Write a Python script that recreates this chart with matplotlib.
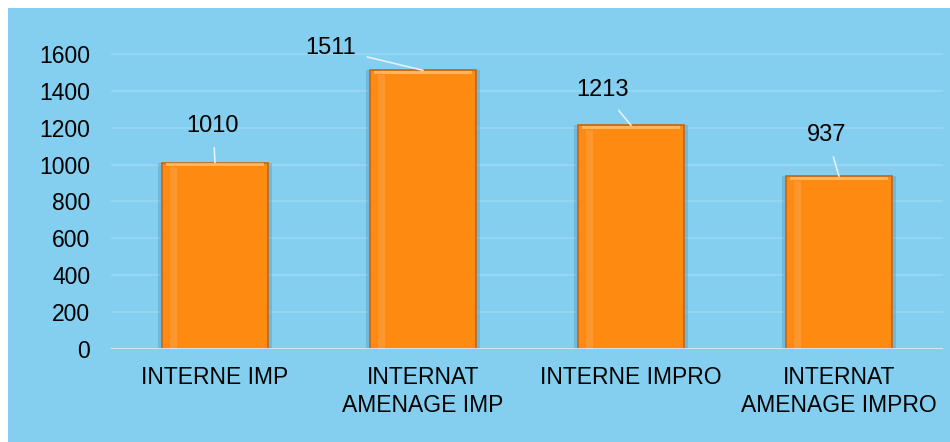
import matplotlib.pyplot as plt
from matplotlib.patches import Rectangle

plt.rcParams['font.family'] = ['Liberation Sans', 'DejaVu Sans']

categories = ['INTERNE IMP', 'INTERNAT\nAMENAGE IMP', 'INTERNE IMPRO', 'INTERNAT\nAMENAGE IMPRO']
values = [1010, 1511, 1213, 937]
# label offsets in pixels (dx, dy) from bar top
label_offsets = [(-2, 37), (-92, 22), (-29, 35), (-12, 41)]

BG = '#84CFEF'
fig = plt.figure(figsize=(9.5, 4.42), dpi=100)
fig.patch.set_facecolor('white')
bg = Rectangle((8 / 950, 0), 1, 434 / 442, transform=fig.transFigure,
               facecolor=BG, edgecolor='none', zorder=-10)
fig.add_artist(bg)

ax = fig.add_axes([111 / 950, 93 / 442, 832 / 950, 332 / 442])
ax.set_facecolor('none')
x = range(len(values))

# soft shadow behind bars
ax.bar(x, values, width=0.55, color='#4f86a8', alpha=0.3, zorder=2)
ax.bar(x, values, width=0.51, color='#FF8A12', edgecolor='#C0661A', linewidth=1.2, zorder=3)
# light highlight at the top of each bar
for i, v in enumerate(values):
    ax.bar(i, 18, bottom=v - 20, width=0.47, color='#FFC070', alpha=0.8, zorder=4, linewidth=0)
    ax.bar(i - 0.2, v - 25, width=0.03, color='#FFA040', alpha=0.6, zorder=4, linewidth=0)

ax.set_xlim(-0.5, 3.5)
ax.set_ylim(0, 1800)
ax.set_yticks(range(0, 1601, 200))
ax.yaxis.grid(True, color='#9AD8F3', linewidth=1.2, zorder=1)
ax.set_axisbelow(True)
ax.axhline(0, color='#D6EEF9', linewidth=2, zorder=5)
for s in ax.spines.values():
    s.set_visible(False)
ax.tick_params(length=0, labelsize=16.5, colors='black')
ax.tick_params(axis='y', pad=15)
ax.tick_params(axis='x', pad=12)
ax.set_xticks(list(x))
ax.set_xticklabels(categories, fontsize=16.5, linespacing=1.3)

for i, v in enumerate(values):
    dx, dy = label_offsets[i]
    ax.annotate(str(v), xy=(i, v), xytext=(dx * 0.72, dy * 0.72), textcoords='offset points',
                ha='center', va='center', fontsize=17,
                arrowprops=dict(arrowstyle='-', color='#E2F2FA', lw=1.2, shrinkA=6, shrinkB=0))

fig.savefig('out.png', dpi=100)
